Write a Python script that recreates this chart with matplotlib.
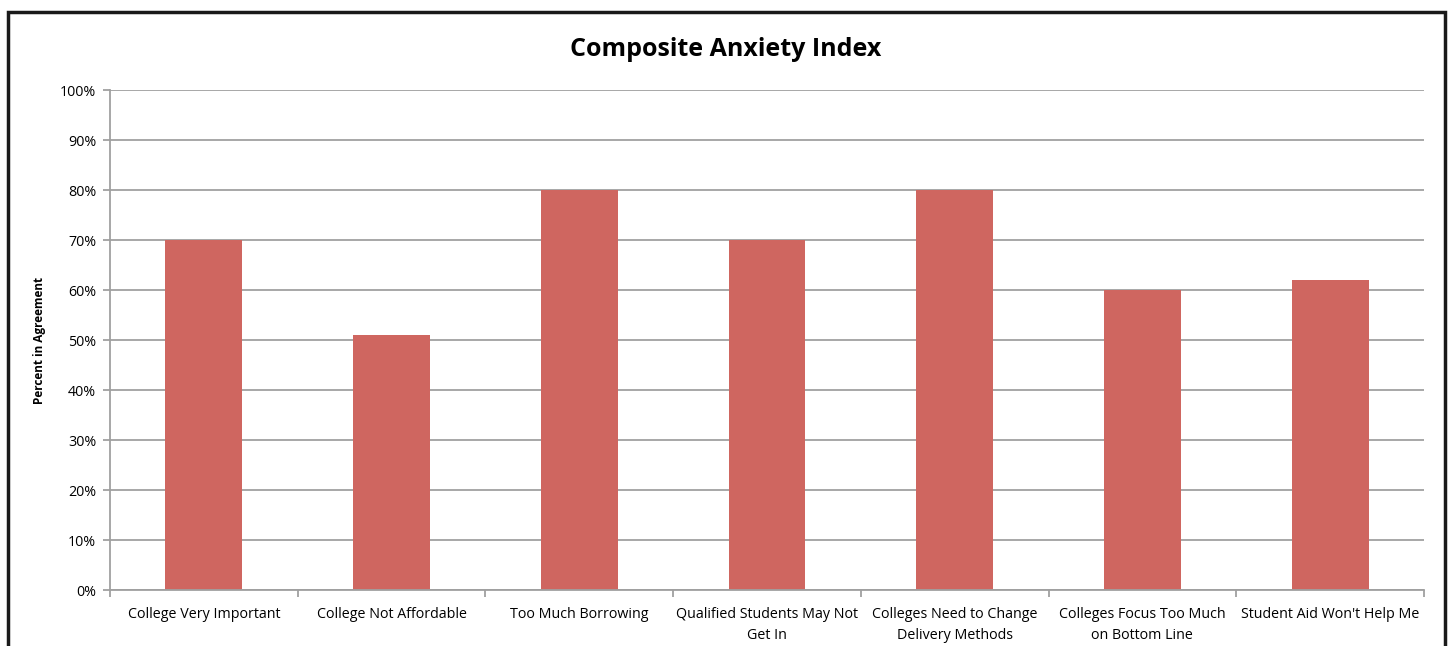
import matplotlib.pyplot as plt
import matplotlib.patches as patches
from matplotlib.ticker import PercentFormatter

plt.rcParams['font.family'] = ['Open Sans', 'DejaVu Sans']

categories = ["College Very Important", "College Not Affordable", "Too Much Borrowing",
              "Qualified Students May Not\nGet In", "Colleges Need to Change\nDelivery Methods",
              "Colleges Focus Too Much\non Bottom Line", "Student Aid Won't Help Me"]
values = [70, 51, 80, 70, 80, 60, 62]

fig = plt.figure(figsize=(14.5, 6.46), dpi=100)
ax = fig.add_axes([110/1450, 1-590/646, (1424-110)/1450, 500/646])

x = range(len(categories))
ax.bar(x, values, width=0.41, color="#CF6660", zorder=2)

ax.set_xlim(-0.5, len(categories) - 0.5)
ax.set_ylim(0, 100)
ax.set_yticks(range(0, 101, 10))
ax.yaxis.set_major_formatter(PercentFormatter(decimals=0))
ax.yaxis.grid(True, color="#A0A0A0", linewidth=1.3, zorder=0)

ax.set_xticks(list(x))
ax.set_xticklabels(categories, fontsize=10.3, linespacing=1.6)
ax.tick_params(axis='x', length=0, pad=12)
ax.set_xticks([i - 0.5 for i in range(len(categories) + 1)], minor=True)
ax.tick_params(axis='x', which='minor', length=5, color="#A0A0A0", width=1.3)
ax.tick_params(axis='y', length=5, color="#A0A0A0", width=1.3, labelsize=10.3, pad=5)

for s in ['top', 'right']:
    ax.spines[s].set_visible(False)
for s in ['left', 'bottom']:
    ax.spines[s].set_color("#A0A0A0")
    ax.spines[s].set_linewidth(1.3)

ax.set_ylabel("Percent in Agreement", fontsize=8.5, fontweight='bold', labelpad=10)
fig.text(726/1450, 1-50/646, "Composite Anxiety Index", ha='center', va='center',
         fontsize=18, fontweight='bold')

frame = patches.Rectangle((8/1450, -0.1), (1445-8)/1450, 1.1 - 12/646,
                          transform=fig.transFigure, fill=False, edgecolor="#1a1a1a",
                          linewidth=2.5, clip_on=False)
fig.patches.append(frame)

fig.savefig("out.png", dpi=100)
